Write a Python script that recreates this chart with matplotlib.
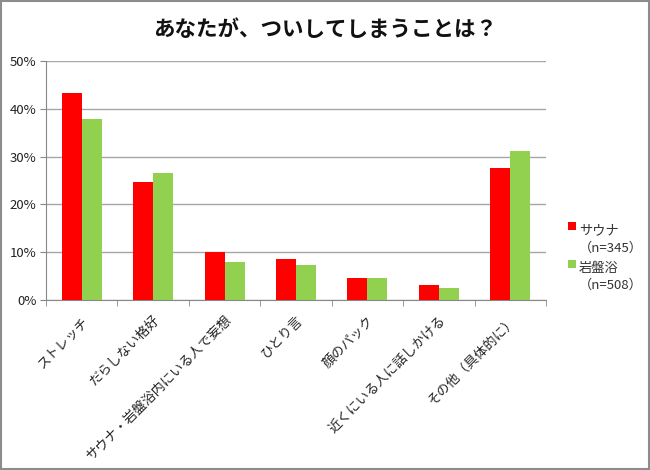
import matplotlib
matplotlib.use("Agg")
import matplotlib.pyplot as plt
import numpy as np
from matplotlib.patches import Rectangle
from matplotlib.legend_handler import HandlerBase

plt.rcParams['font.family'] = ['Noto Sans CJK JP', 'DejaVu Sans']

categories = ["ストレッチ", "だらしない格好", "サウナ・岩盤浴内にいる人で妄想", "ひとり言",
              "顔のパック", "近くにいる人に話しかける", "その他（具体的に）"]
sauna = [43.4, 24.6, 10.0, 8.6, 4.6, 3.1, 27.6]
ganban = [37.9, 26.6, 7.9, 7.4, 4.6, 2.6, 31.2]
series_labels = ["サウナ\n（n=345）", "岩盤浴\n（n=508）"]
yticks = [0, 10, 20, 30, 40, 50]
title = "あなたが、ついしてしまうことは？"


class TopSquareHandler(HandlerBase):
    def create_artists(self, legend, orig_handle, xdescent, ydescent, width, height, fontsize, trans):
        size = min(width, height)
        color = orig_handle.patches[0].get_facecolor()
        r = Rectangle((-xdescent + width - size, -ydescent + 1.05 * fontsize), size, size,
                      facecolor=color, edgecolor='none', transform=trans)
        return [r]


fig = plt.figure(figsize=(6.5, 4.7), dpi=100)
ax = fig.add_axes([46/650, 1 - 300/470, 500/650, 239/470])

x = np.arange(len(categories))
w = 0.28
b1 = ax.bar(x - w/2, sauna, w, color="#FF0000", label=series_labels[0], zorder=3)
b2 = ax.bar(x + w/2, ganban, w, color="#92D050", label=series_labels[1], zorder=3)

ax.set_xlim(-0.5, len(categories) - 0.5)
ax.set_ylim(0, 50)
ax.set_yticks(yticks)
ax.set_yticklabels([f"{v}%" for v in yticks], fontsize=9.5, color="#222222")
ax.yaxis.grid(True, color="#A6A6A6", linewidth=1, zorder=0)
ax.tick_params(axis='y', length=4, color="#888888", pad=3)

ax.set_xticks(x)
ax.set_xticklabels(categories, rotation=45, ha='right', rotation_mode='anchor', fontsize=9.5, color="#222222")
ax.tick_params(axis='x', length=0, pad=10)
ax.set_xticks(np.arange(-0.5, len(categories), 1), minor=True)
ax.tick_params(axis='x', which='minor', length=4, color="#888888")

for s in ['top', 'right']:
    ax.spines[s].set_visible(False)
ax.spines['left'].set_color("#888888")
ax.spines['bottom'].set_color("#888888")

fig.text(0.5, 1 - 30/470, title, ha='center', va='center', fontsize=15.5, fontweight='bold', color="#111111")

leg = fig.legend(handles=[b1, b2], labels=series_labels, loc='center left',
                 bbox_to_anchor=(556/650, 1 - 258/470), frameon=False, borderpad=0.4,
                 fontsize=9.5, handlelength=0.6, handleheight=0.6, handletextpad=0.25,
                 labelspacing=0.55,
                 handler_map={b1: TopSquareHandler(), b2: TopSquareHandler()})
for t in leg.get_texts():
    t.set_color("#333333")
    t.set_multialignment('left')
    t.set_linespacing(1.45)

fig.patches.append(Rectangle((0.002, 0.002), 0.996, 0.996, transform=fig.transFigure,
                             fill=False, edgecolor="#8C8C8C", linewidth=1.5))

fig.savefig("out.png", dpi=100)
